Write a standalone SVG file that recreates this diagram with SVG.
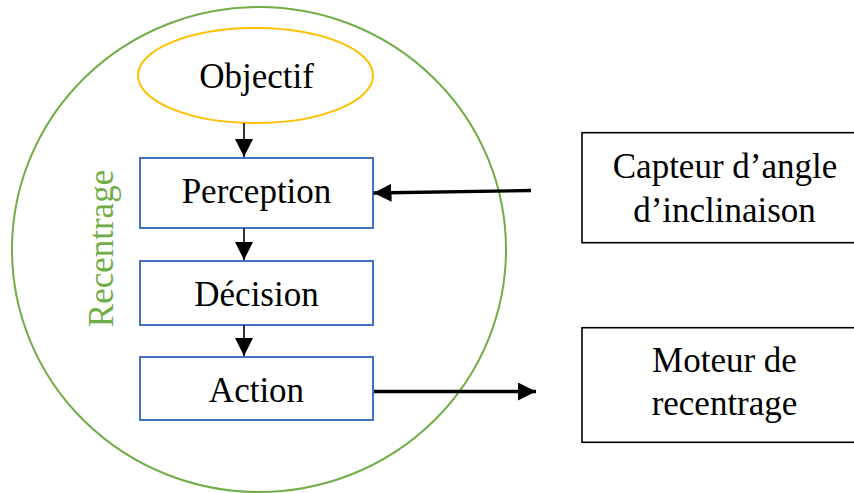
<svg xmlns="http://www.w3.org/2000/svg" width="854" height="493" viewBox="0 0 854 493">
<style>
text{font-family:"Liberation Serif","Times New Roman",serif;font-size:35px;fill:#000;text-anchor:middle}
.blue{fill:#fff;stroke:#4472C4;stroke-width:2}
.ext{fill:#fff;stroke:#000;stroke-width:1.6}
.thin{stroke:#000;stroke-width:1.6;fill:none}
.thick{stroke:#000;stroke-width:3.3;fill:none}
</style>
<defs>
<marker id="ah" markerUnits="userSpaceOnUse" markerWidth="18" markerHeight="18" viewBox="0 0 18 18" refX="18" refY="9" orient="auto">
<path d="M0,0 L18,9 L0,18 Z" fill="#000"/>
</marker>
</defs>
<rect width="854" height="493" fill="#fff"/>
<g id="recentrage">
<ellipse cx="259" cy="249.5" rx="247" ry="242.5" fill="none" stroke="#70AD47" stroke-width="2"/>
<text transform="translate(113,248.5) rotate(-90)" style="fill:#70AD47">Recentrage</text>
</g>
<g id="objectif">
<ellipse cx="255.5" cy="75.5" rx="117.5" ry="47.5" fill="#fff" stroke="#FFC000" stroke-width="2"/>
<text x="256.5" y="88">Objectif</text>
</g>
<g id="perception">
<rect class="blue" x="140" y="158" width="233" height="70"/>
<text x="256.5" y="203">Perception</text>
</g>
<g id="decision">
<rect class="blue" x="140" y="261" width="233" height="64"/>
<text x="256.5" y="306">Décision</text>
</g>
<g id="action">
<rect class="blue" x="140" y="357" width="233" height="63"/>
<text x="256.5" y="402">Action</text>
</g>
<g id="capteur">
<rect class="ext" x="582" y="132.7" width="290" height="110"/>
<text x="725" y="178.3">Capteur d’angle</text>
<text x="724.5" y="221.7">d’inclinaison</text>
</g>
<g id="moteur">
<rect class="ext" x="582" y="327.7" width="290" height="114.6"/>
<text x="724.5" y="372.3">Moteur de</text>
<text x="724.5" y="415">recentrage</text>
</g>
<g id="connectors">
<line class="thin" x1="244" y1="123" x2="244" y2="157" marker-end="url(#ah)"/>
<line class="thin" x1="244" y1="228" x2="244" y2="260" marker-end="url(#ah)"/>
<line class="thin" x1="244" y1="325" x2="244" y2="356" marker-end="url(#ah)"/>
<line class="thick" x1="531" y1="190.5" x2="373.5" y2="193" marker-end="url(#ah)"/>
<line class="thick" x1="374" y1="391.5" x2="536" y2="391.5" marker-end="url(#ah)"/>
</g>
</svg>
